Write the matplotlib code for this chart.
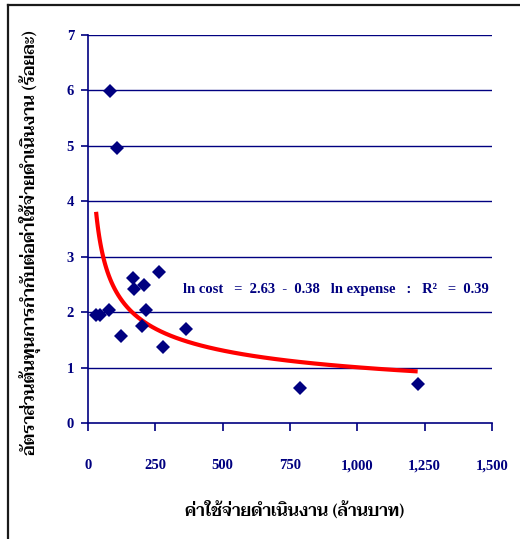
import numpy as np
import matplotlib
matplotlib.use("Agg")
import matplotlib.pyplot as plt
from matplotlib.lines import Line2D

# Operating expense (million baht) vs. supervision-cost ratio (%)
expense = [82, 108, 30, 45, 77, 121, 166, 172, 208, 214, 202, 264, 280, 363, 786, 1224]
cost_ratio = [5.99, 4.96, 1.95, 1.95, 2.04, 1.57, 2.62, 2.42, 2.49, 2.04, 1.75, 2.72, 1.38, 1.69, 0.63, 0.70]

# Fitted model: ln cost = a - b ln expense
fit_a = 2.63
fit_b = 0.38
fit_r2 = 0.39

x_ticks = [0, 250, 500, 750, 1000, 1250, 1500]
x_tick_labels = ["0", "250", "500", "750", "1,000", "1,250", "1,500"]
y_ticks = [0, 1, 2, 3, 4, 5, 6, 7]

x_label = "ค่าใช้จ่ายดำเนินงาน (ล้านบาท)"
y_label = "อัตราส่วนต้นทุนการกำกับต่อค่าใช้จ่ายดำเนินงาน (ร้อยละ)"

NAVY = "#000080"
thai_fonts = ["Taviraj", "Sarabun", "Noto Serif Thai", "Noto Sans Thai", "DejaVu Sans"]
serif_bold = dict(family=["Liberation Serif", "DejaVu Serif"], weight="bold")

fig = plt.figure(figsize=(5.2, 5.39), dpi=100)
ax = fig.add_axes([88 / 520, 1 - 423 / 539, (492 - 88) / 520, (423 - 35) / 539])

# horizontal gridlines
for yv in y_ticks[1:]:
    ax.axhline(yv, color=NAVY, lw=1.0, zorder=1)

# fitted curve
xs = np.geomspace(min(expense), max(expense), 60)
ys = np.exp(fit_a - fit_b * np.log(xs))
ax.plot(xs, ys, color="#ff0000", lw=3.0, zorder=2, solid_capstyle="butt")

# observations
ax.plot(expense, cost_ratio, linestyle="none", marker="D", ms=7,
        color=NAVY, markeredgewidth=0, zorder=3)

eq_text = (f"ln cost   =  {fit_a:.2f}  -  {fit_b:.2f}   ln expense   :   "
           f"R\u00b2   =  {fit_r2:.2f}")
ax.text(353, 2.40, eq_text, ha="left", va="center", color=NAVY,
        fontsize=10.5, **serif_bold)

ax.set_xlim(0, 1500)
ax.set_ylim(0, 7)
ax.set_xticks(x_ticks)
ax.set_xticklabels(x_tick_labels)
ax.set_yticks(y_ticks)
for lab in ax.get_xticklabels() + ax.get_yticklabels():
    lab.set_fontfamily(serif_bold["family"])
    lab.set_fontweight("bold")
    lab.set_fontsize(10.5)
    lab.set_color(NAVY)
ax.tick_params(axis="x", direction="out", length=6, width=1.2, color=NAVY, pad=20)
ax.tick_params(axis="y", direction="out", length=5, width=1.2, color=NAVY, pad=5)

for side in ("top", "right"):
    ax.spines[side].set_visible(False)
for side in ("left", "bottom"):
    ax.spines[side].set_color(NAVY)
    ax.spines[side].set_linewidth(1.2)

fig.text(295 / 520, 1 - 510 / 539, x_label, ha="center", va="center",
         fontsize=12, fontweight=600, color="black", family=thai_fonts)
fig.text(30 / 520, 1 - 243 / 539, y_label, ha="center", va="center",
         rotation=90, fontsize=12.4, fontweight=600, color="black", family=thai_fonts)

# outer frame (top and left edges)
fig.add_artist(Line2D([8 / 520, 8 / 520], [0, 1 - 5 / 539], color="#1a1a1a", lw=1.6,
                      transform=fig.transFigure))
fig.add_artist(Line2D([8 / 520, 1], [1 - 5 / 539, 1 - 5 / 539], color="#1a1a1a", lw=1.6,
                      transform=fig.transFigure))

fig.savefig("out.png", dpi=100)
